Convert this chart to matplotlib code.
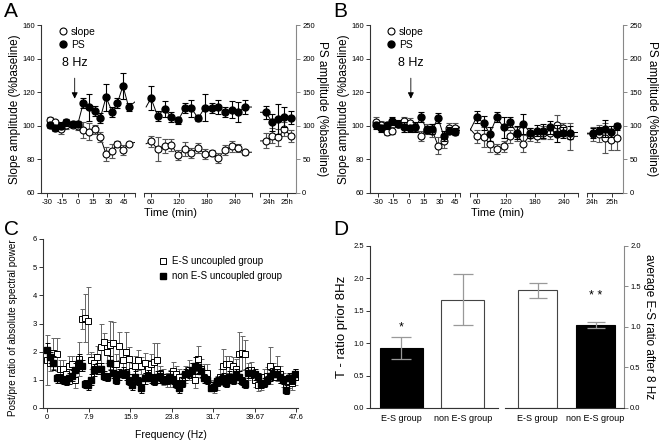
import matplotlib
matplotlib.use('Agg')
import matplotlib.pyplot as plt
import numpy as np
from matplotlib.lines import Line2D

plt.rcParams['font.family'] = ['Liberation Sans', 'DejaVu Sans']
plt.rcParams['axes.linewidth'] = 0.8

# ---------- data ----------
# panel A: time (min), slope and PS (PS on right axis, %baseline)
A_time = [-27.5, -22, -16.5, -11, -5, 0, 5.5, 11, 16.5, 22, 27.5, 33.5, 38.5, 44, 49.5,
          60, 74, 89, 103, 118, 132, 146, 161, 175, 190, 204, 218, 233, 247, 262,
          1430, 1451, 1471, 1491, 1512]
A_slope = [103.5, 102, 98, 100.2, 100.4, 100, 97.5, 96.5, 97.8, 93.3, 83.2, 85.1, 89.3, 85.7, 89.3,
           90.7, 86.1, 88.1, 88.7, 82.4, 86.1, 83.8, 86.7, 83.2, 83.8, 80.8, 85.7, 87.7, 86.7, 84.2,
           91.1, 94.1, 93.1, 98, 94.1]
A_slope_err = [2, 1.5, 3, 2, 2, 2.5, 5, 5, 2.5, 3, 4, 4, 1.5, 3, 1,
               3.5, 7, 4, 3.5, 3, 4, 3, 3, 3, 2, 3, 3, 3.5, 2.5, 1.5,
               4.5, 4.5, 5, 4, 3.5]
A_ps = [101, 96.5, 100, 105, 102.5, 102.5, 134.5, 127.5, 122.5, 112, 142.5, 121, 133.5, 159.5, 128,
        141, 115, 125, 113, 108, 126, 126, 111.5, 127, 126, 128, 120, 124, 121, 128,
        120, 105, 110, 113, 112]
A_ps_err = [5, 4, 5, 5, 4, 5, 7.5, 20, 7.5, 7.5, 20, 7.5, 7.5, 19, 6,
            17.5, 7.5, 12.5, 7.5, 5, 7.5, 12.5, 5, 20, 7.5, 10, 7.5, 12.5, 15, 10,
            10, 12.5, 22.5, 15, 10]

# panel B
B_time = [-32, -27, -21, -16, -10.5, -5, 1, 6.5, 12, 17.5, 23, 28.5, 34, 39.5, 45,
          60, 74, 87, 101, 115, 128, 142, 156, 170, 183, 197, 211, 224, 238, 252,
          1442, 1460, 1479, 1497, 1515]
B_slope = [102.4, 100.6, 96.6, 97.2, 101, 103, 101.6, 99.2, 94.2, 98, 97.2, 88.1, 90.7, 98.6, 98.6,
           93.7, 93.3, 89.3, 86.1, 87.7, 93.7, 95, 89.3, 94.7, 94.1, 96, 96, 100.6, 98.6, 93.7,
           95.2, 95.2, 92.7, 91.7, 92.7]
B_slope_err = [3, 2, 2, 2, 2, 2, 3, 2, 3, 3, 4, 5, 4, 3, 3,
               4, 6, 5, 3, 3, 4, 4, 5, 4, 4, 4, 4, 6, 3, 8,
               4, 5, 9, 6, 7]
B_ps = [100.5, 96.5, 100.5, 107.5, 103, 98, 96.5, 98, 112.5, 94, 95, 111.5, 85, 92.5, 91.5,
        113, 104, 88, 113, 97.5, 105, 90, 103, 89, 93, 92.5, 97.5, 88, 90, 90,
        89, 92.5, 95.5, 91.5, 99]
B_ps_err = [5, 5, 5, 6, 5, 7.5, 5, 7.5, 7.5, 5, 7.5, 7.5, 7.5, 5, 5,
            9, 10, 10, 7.5, 15, 7.5, 10, 15, 7.5, 7.5, 10, 10, 12.5, 7.5, 10,
            7.5, 5, 12.5, 7.5, 5]

# panel C: post/pre spectral power ratio
freq = np.arange(80) * 0.6
es_unc = [1.7, 1.6, 1.95, 1.9, 1.4, 1.4, 1.2, 1.5, 1.55, 1.0,
          1.75, 3.15, 3.2, 3.1, 1.7, 1.6, 1.8, 2.15, 2.35, 2.0,
          2.25, 2.3, 1.55, 2.2, 1.7, 2.0, 1.75, 1.3, 1.5, 1.7,
          1.5, 1.6, 1.4, 1.55, 1.65, 1.7, 1.2, 1.1, 1.0, 1.05,
          1.3, 1.2, 1.1, 1.0, 1.2, 1.35, 1.3, 1.0, 1.75, 1.4,
          1.25, 1.25, 0.8, 0.75, 0.9, 1.1, 1.5, 1.55, 1.55, 1.5,
          1.4, 1.9, 1.95, 1.9, 1.3, 1.35, 1.0, 0.8, 0.9, 1.1,
          1.15, 1.5, 1.3, 1.4, 1.2, 1.0, 0.8, 0.95, 0.9, 1.1]
es_unc_err = [0.9, 0.3, 0.55, 0.6, 0.3, 0.3, 0.3, 0.35, 0.3, 0.3,
              0.6, 0.35, 0.85, 1.2, 0.3, 0.3, 0.4, 0.85, 0.3, 0.4,
              0.85, 0.75, 0.35, 0.5, 0.4, 0.7, 0.4, 0.3, 0.35, 0.35,
              0.3, 0.35, 0.3, 0.35, 0.65, 0.6, 0.3, 0.3, 0.25, 0.3,
              0.35, 0.3, 0.3, 0.25, 0.3, 0.35, 0.3, 0.3, 0.45, 0.35,
              0.3, 0.3, 0.2, 0.2, 0.25, 0.3, 0.6, 0.3, 0.3, 0.3,
              0.35, 0.8, 0.6, 0.5, 0.3, 0.3, 0.25, 0.2, 0.25, 0.3,
              0.3, 0.65, 0.3, 0.45, 0.3, 0.25, 0.2, 0.25, 0.25, 0.3]
non_unc = [2.05, 1.8, 1.6, 1.05, 1.05, 1.0, 0.95, 1.05, 1.15, 1.35,
           1.6, 1.5, 0.85, 0.8, 1.0, 1.35, 1.4, 1.4, 1.15, 1.1,
           1.6, 1.25, 1.0, 1.2, 1.25, 1.2, 0.95, 0.8, 1.1, 0.95,
           0.7, 1.05, 1.15, 1.05, 0.95, 1.1, 1.15, 1.0, 1.0, 1.1,
           1.0, 0.85, 0.7, 0.9, 1.2, 1.25, 1.35, 1.5, 1.45, 1.3,
           1.05, 1.0, 0.7, 0.75, 0.95, 1.0, 1.05, 0.9, 1.1, 1.0,
           1.2, 1.1, 0.95, 0.85, 1.25, 1.25, 1.2, 1.1, 0.85, 0.9,
           1.0, 1.15, 1.2, 1.2, 1.1, 1.0, 0.65, 1.05, 1.0, 1.2]
non_unc_err = [0.25, 0.2, 0.25, 0.15, 0.15, 0.15, 0.15, 0.2, 0.2, 0.25,
               0.3, 0.2, 0.15, 0.15, 0.2, 0.2, 0.2, 0.2, 0.15, 0.15,
               0.25, 0.2, 0.15, 0.2, 0.2, 0.2, 0.15, 0.15, 0.2, 0.15,
               0.15, 0.2, 0.2, 0.15, 0.15, 0.2, 0.2, 0.15, 0.15, 0.2,
               0.15, 0.15, 0.15, 0.15, 0.2, 0.2, 0.25, 0.3, 0.2, 0.2,
               0.15, 0.15, 0.1, 0.15, 0.15, 0.15, 0.2, 0.15, 0.2, 0.15,
               0.2, 0.2, 0.15, 0.15, 0.2, 0.2, 0.2, 0.15, 0.15, 0.15,
               0.15, 0.2, 0.2, 0.2, 0.2, 0.15, 0.15, 0.2, 0.15, 0.2]
freq_ticks = [0, 7.9, 15.9, 23.8, 31.7, 39.67, 47.6]

# panel D
groups = ['E-S group', 'non E-S group']
t_ratio = [0.92, 1.67]
t_ratio_err = [0.17, 0.39]
es_ratio = [1.45, 1.02]
es_ratio_err = [0.09, 0.04]

# ---------- layout ----------
W, H = 662, 443
fig = plt.figure(figsize=(W / 100, H / 100), dpi=100)


def box(l, t, r, b):
    return [l / W, 1 - b / H, (r - l) / W, (b - t) / H]


TICK = 5.5
LAB = 8.5
DARK = '#333333'
GREY = '#888888'


def time_panel(t, slope, slope_err, ps, ps_err, segs, lims, arrow_t, leg_x, ylab_x, rlab_x, xlab_x):
    ticks = [[-30, -15, 0, 15, 30, 45], [60, 120, 180, 240], [1440, 1500]]
    labels = [['-30', '-15', '0', '15', '30', '45'], ['60', '120', '180', '240'], ['24h', '25h']]
    t = np.asarray(t)
    slope, slope_err = np.asarray(slope), np.asarray(slope_err)
    ps, ps_err = np.asarray(ps), np.asarray(ps_err)
    seg_id = np.digitize(t, [55, 1000])
    n = len(segs)
    first = None
    for k, (l, r) in enumerate(segs):
        idx = np.where(seg_id == k)[0]
        m = slice(idx[0], idx[-1] + 1)
        ln = slice(max(idx[0] - 1, 0), min(idx[-1] + 2, len(t)))
        ax = fig.add_axes(box(l, 25, r, 193))
        ax2 = ax.twinx()
        ax.set_xlim(lims[k])
        ax.set_ylim(60, 160)
        ax2.set_ylim(0, 250)
        ax.plot(t[ln], slope[ln], color='black', lw=0.7, zorder=1)
        ax.errorbar(t[m], slope[m], yerr=slope_err[m], fmt='o', ms=5, mfc='white', mec='black',
                    mew=0.8, ecolor='#555555', elinewidth=0.8, capsize=2.2, capthick=0.8, zorder=3)
        ax2.plot(t[ln], ps[ln], color='black', lw=0.7, zorder=1)
        ax2.errorbar(t[m], ps[m], yerr=ps_err[m], fmt='o', ms=5, mfc='black', mec='black',
                     ecolor='black', elinewidth=0.8, capsize=2.2, capthick=0.8, zorder=3)
        for a in (ax, ax2):
            a.spines['top'].set_visible(False)
        ax.spines['right'].set_visible(False)
        ax2.spines['left'].set_visible(False)
        ax2.spines['bottom'].set_visible(False)
        ax.spines['bottom'].set_color(DARK)
        ax.set_xticks(ticks[k])
        ax.set_xticklabels(labels[k])
        minor = []
        if k > 0:
            minor.append(lims[k][0])
        if k < n - 1:
            minor.append(lims[k][1])
        ax.set_xticks(minor, minor=True)
        ax.tick_params(axis='x', which='both', length=3, width=0.7, labelsize=TICK, pad=1.5, color=DARK)
        if k == 0:
            ax.spines['left'].set_color(DARK)
            ax.set_yticks([60, 80, 100, 120, 140, 160])
            ax.tick_params(axis='y', length=3, width=0.7, labelsize=TICK, pad=1.5, color=DARK)
            first = ax
        else:
            ax.spines['left'].set_visible(False)
            ax.tick_params(axis='y', left=False, labelleft=False)
        if k == n - 1:
            ax2.spines['right'].set_color(GREY)
            ax2.set_yticks([0, 50, 100, 150, 200, 250])
            ax2.tick_params(axis='y', length=3, width=0.7, labelsize=TICK, pad=1.5, color=GREY)
        else:
            ax2.spines['right'].set_visible(False)
            ax2.tick_params(axis='y', right=False, labelright=False)
    # stimulation arrow
    first.annotate('', xy=(arrow_t, 114.5), xytext=(arrow_t, 130),
                   arrowprops=dict(arrowstyle='-|>', color='black', lw=0.6, mutation_scale=9),
                   annotation_clip=False)
    first.text(arrow_t, 137.5, '8 Hz', ha='center', va='center', fontsize=9)
    h = [Line2D([], [], ls='none', marker='o', ms=5, mfc='white', mec='black', mew=0.8),
         Line2D([], [], ls='none', marker='o', ms=5, mfc='black', mec='black')]
    fig.legend(h, ['slope', 'PS'], loc='upper left', bbox_to_anchor=(leg_x / W, 1 - 27 / H),
               frameon=False, fontsize=7.5, handlelength=0.8, handletextpad=0.35,
               labelspacing=0.3, borderpad=0, borderaxespad=0)
    fig.text(ylab_x / W, 1 - 109 / H, 'Slope amplitude (%baseline)', rotation=90,
             ha='center', va='center', fontsize=LAB)
    fig.text(rlab_x / W, 1 - 109 / H, 'PS amplitude (%baseline)', rotation=270,
             ha='center', va='center', fontsize=LAB)
    fig.text(xlab_x / W, 1 - 213 / H, 'Time (min)', ha='center', va='center', fontsize=8)


# A
time_panel(A_time, A_slope, A_slope_err, A_ps, A_ps_err,
           segs=[(41, 135), (144, 252), (260, 296)],
           lims=[(-35.8, 55.7), (45, 276), (1410, 1530)],
           arrow_t=-3, leg_x=59, ylab_x=15, rlab_x=322, xlab_x=170)
# B
time_panel(B_time, B_slope, B_slope_err, B_ps, B_ps_err,
           segs=[(370, 460), (470, 578), (587, 623)],
           lims=[(-37.8, 49.9), (46.2, 268), (1425, 1533)],
           arrow_t=2, leg_x=387, ylab_x=344, rlab_x=652, xlab_x=498)

# C
axc = fig.add_axes(box(43, 239, 298, 408))
axc.errorbar(freq, es_unc, yerr=es_unc_err, fmt='s', ms=4, mfc='white', mec='black', mew=0.7,
             ecolor='#666666', elinewidth=0.7, capsize=1.8, capthick=0.7, zorder=2)
axc.errorbar(freq, non_unc, yerr=non_unc_err, fmt='s', ms=4, mfc='black', mec='black',
             ecolor='black', elinewidth=0.7, capsize=1.8, capthick=0.7, zorder=3)
axc.set_xlim(-0.8, 47.9)
axc.set_ylim(0, 6)
axc.set_xticks(freq_ticks)
axc.set_xticklabels(['0', '7.9', '15.9', '23.8', '31.7', '39.67', '47.6'])
axc.set_yticks(range(7))
for s in ('top', 'right'):
    axc.spines[s].set_visible(False)
for s in ('left', 'bottom'):
    axc.spines[s].set_color(DARK)
axc.tick_params(length=3, width=0.7, labelsize=TICK, pad=1.5, color=DARK)
fig.text(13 / W, 1 - 328 / H, 'Post/pre ratio of absolute spectral power', rotation=90,
         ha='center', va='center', fontsize=7.1)
axc.set_xlabel('Frequency (Hz)', fontsize=7.5, labelpad=6)
hc = [Line2D([], [], ls='none', marker='s', ms=4, mfc='white', mec='black', mew=0.7),
      Line2D([], [], ls='none', marker='s', ms=4, mfc='black', mec='black')]
fig.legend(hc, ['E-S uncoupled group', 'non E-S uncoupled group'], loc='upper left',
           bbox_to_anchor=(159.5 / W, 1 - 256.5 / H), frameon=False, fontsize=7,
           handlelength=0.8, handletextpad=0.5, labelspacing=0.5, borderpad=0, borderaxespad=0)

# D
axd1 = fig.add_axes(box(370, 245.7, 498, 408))
axd1.bar([0, 1], t_ratio, width=0.7, color=['black', 'white'], edgecolor=['black', '#444444'],
         linewidth=0.8, yerr=t_ratio_err,
         error_kw=dict(ecolor='#999999', elinewidth=0.9, capsize=7, capthick=0.9))
axd1.set_xlim(-0.512, 1.57)
axd1.set_ylim(0, 2.5)
axd1.set_yticks([0, 0.5, 1.0, 1.5, 2.0, 2.5])
axd1.set_yticklabels(['0.0', '0.5', '1.0', '1.5', '2.0', '2.5'])
axd1.set_xticks([0, 1])
axd1.set_xticklabels(groups)
for s in ('top', 'right'):
    axd1.spines[s].set_visible(False)
for s in ('left', 'bottom'):
    axd1.spines[s].set_color(DARK)
axd1.tick_params(axis='y', length=3, width=0.7, labelsize=TICK, pad=1.5, color=DARK)
axd1.tick_params(axis='x', length=0, labelsize=6.5, pad=4)
axd1.text(0, 1.24, '*', ha='center', va='center', fontsize=9)
axd1.set_ylabel('T - ratio prior 8Hz', fontsize=9.5, labelpad=4)

axd2 = fig.add_axes(box(505, 245.7, 624, 408))
axd2.bar([0, 1], es_ratio, width=0.67, color=['white', 'black'], edgecolor=['#444444', 'black'],
         linewidth=0.8, yerr=es_ratio_err,
         error_kw=dict(ecolor='#999999', elinewidth=0.9, capsize=6.5, capthick=0.9))
axd2.set_xlim(-0.56, 1.49)
axd2.set_ylim(0, 2.0)
axd2.set_yticks([0, 0.5, 1.0, 1.5, 2.0])
axd2.set_yticklabels(['0.0', '0.5', '1.0', '1.5', '2.0'])
axd2.yaxis.tick_right()
axd2.yaxis.set_label_position('right')
axd2.set_xticks([0, 1])
axd2.set_xticklabels(groups)
for s in ('top', 'left'):
    axd2.spines[s].set_visible(False)
axd2.spines['right'].set_color(GREY)
axd2.spines['bottom'].set_color(DARK)
axd2.tick_params(axis='y', length=3, width=0.7, labelsize=TICK, pad=1.5, color=GREY)
axd2.tick_params(axis='x', length=0, labelsize=6.5, pad=4)
axd2.text(1, 1.38, '* *', ha='center', va='center', fontsize=9)
axd2.set_ylabel('average E-S ratio after 8 Hz', fontsize=8.5, rotation=270, labelpad=10)

# panel letters
for letter, x, y in [('A', 4, 2), ('B', 333, 2), ('C', 4, 220), ('D', 333, 220)]:
    fig.text(x / W, 1 - y / H, letter, fontsize=15, ha='left', va='top')

fig.savefig('out.png', dpi=100)
